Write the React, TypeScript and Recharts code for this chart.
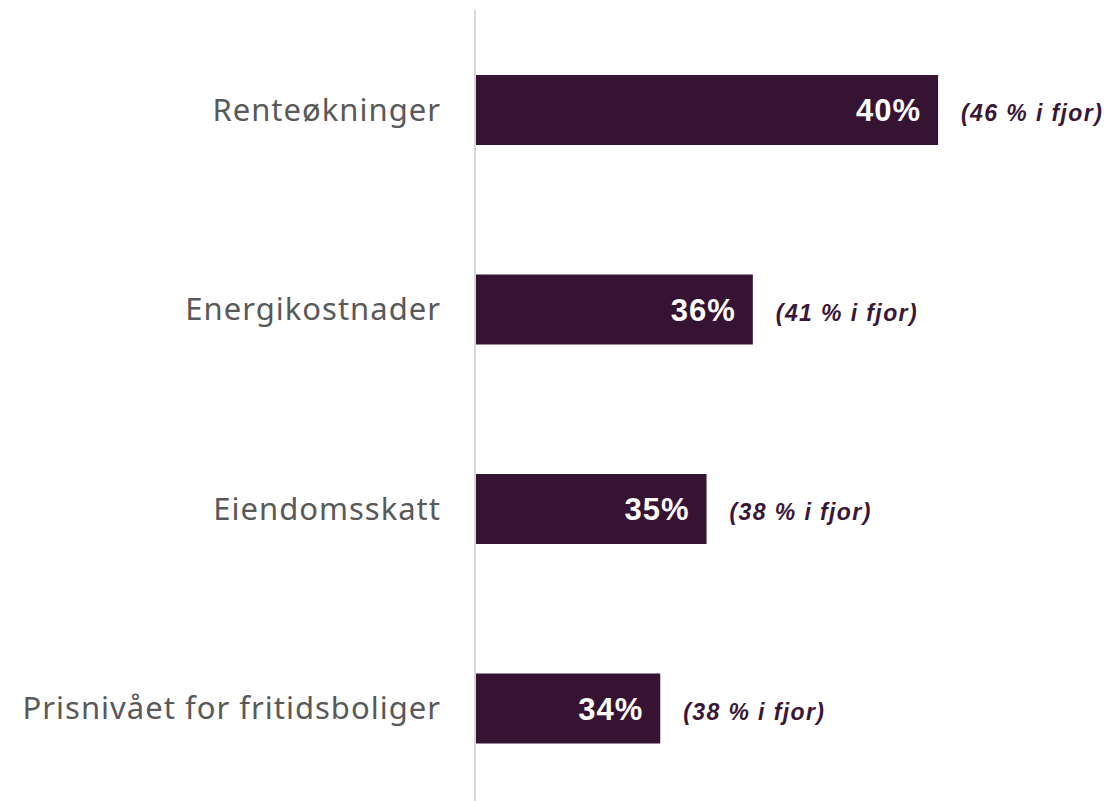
import { BarChart, Bar, XAxis, YAxis, LabelList } from "recharts";

const categories = [
  "Renteøkninger",
  "Energikostnader",
  "Eiendomsskatt",
  "Prisnivået for fritidsboliger",
];
const values = [40, 36, 35, 34];
const lastYear = [46, 41, 38, 38];

const chartData = categories.map((name, i) => ({
  name,
  value: values[i],
  lastYear: lastYear[i],
}));

const BAR = "#361333";

// category names sit 35px left of the axis line
const CategoryTick = (props: any) => {
  const { payload, index } = props;
  const cy = props.y;
  return (
    <text
      key={index}
      x={441}
      y={cy}
      dy={11}
      textAnchor="end"
      fontFamily="'Noto Sans', sans-serif"
      fontSize={31}
      letterSpacing={1}
      fill="#595959"
    >
      {payload.value}
    </text>
  );
};

const ValueLabel = (props: any) => {
  const { x, y, width, height, value } = props;
  return (
    <text
      x={x + width - 17}
      y={y + height / 2}
      dy={11}
      textAnchor="end"
      fontFamily="'Liberation Sans', Arial, sans-serif"
      fontSize={31}
      fontWeight="bold"
      letterSpacing={1}
      fill="#fff"
    >
      {`${value}%`}
    </text>
  );
};

const LastYearLabel = (props: any) => {
  const { x, y, width, height, value } = props;
  return (
    <text
      x={x + width + 23}
      y={y + height / 2}
      dy={11}
      fontFamily="'Liberation Sans', Arial, sans-serif"
      fontSize={23}
      fontStyle="italic"
      fontWeight="bold"
      letterSpacing={1.4}
      fill="#3a1737"
    >
      {`(${value} % i fjor)`}
    </text>
  );
};

const App = () => (
  <div style={{ position: "absolute", left: 0, top: 0, width: 1113, height: 801, overflow: "hidden", background: "#fff" }}>
    <BarChart
      width={1113}
      height={808}
      data={chartData}
      layout="vertical"
      margin={{ top: 10, right: 36, left: 0, bottom: 0 }}
      barSize={70}
    >
      <XAxis type="number" domain={[30, 43]} hide />
      <YAxis
        type="category"
        dataKey="name"
        width={475}
        tick={<CategoryTick />}
        tickLine={false}
        axisLine={{ stroke: "#d9d9d9", strokeWidth: 2 }}
      />
      <Bar dataKey="value" fill={BAR} isAnimationActive={false}>
        <LabelList dataKey="value" content={<ValueLabel />} />
        <LabelList dataKey="lastYear" content={<LastYearLabel />} />
      </Bar>
    </BarChart>
  </div>
);

export default App;
